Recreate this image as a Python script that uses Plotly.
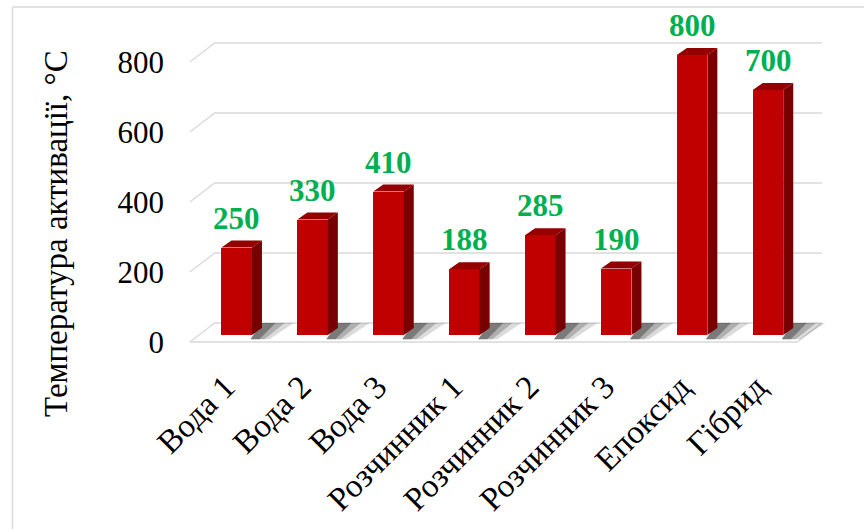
import plotly.graph_objects as go

# ---------------- data ----------------
categories = ["Вода 1", "Вода 2", "Вода 3", "Розчинник 1", "Розчинник 2",
              "Розчинник 3", "Епоксид", "Гібрид"]
values = [250, 330, 410, 188, 285, 190, 800, 700]
tick_values = [0, 200, 400, 600, 800]
tick_labels = ["0", "200", "400", "600", "800"]
y_title = "Температура активації, °С"

# ---------------- styling / geometry ----------------
W, H = 864, 529
L, R, T, B = 165, 830, 30, 350          # plot area in px
cat0_px = 236.7                          # px of first category centre
val0_px = 335.0                          # px of value 0 (bar plane)
px_per_cat = 75.9
px_per_unit = 0.35

FONT = "Times New Roman, Liberation Serif, serif"
RED = "#C00000"
RED_SIDE = "#780000"
RED_TOP = "#940000"
GREEN = "#00B050"
GRID = "#D9D9D9"

bar_w = 30.5 / px_per_cat
side_dx = 10 / px_per_cat
side_dy = 7 / px_per_unit
front_dx, front_dy = -9 / px_per_cat, -7 / px_per_unit
back_dx, back_dy = 16 / px_per_cat, 12 / px_per_unit

n = len(categories)
idx = list(range(n))
xr0 = (L - cat0_px) / px_per_cat
xr1 = (R - cat0_px) / px_per_cat
yr0 = (val0_px - B) / px_per_unit
yr1 = (val0_px - T) / px_per_unit

fig = go.Figure()

shapes = []
# floor / gridlines (3D walls)
left = -0.5
right = n - 0.5
for v in tick_values:
    path = (f"M {left + front_dx},{v + front_dy} L {left + back_dx},{v + back_dy} "
            f"L {right + back_dx},{v + back_dy}")
    shapes.append(dict(type="path", path=path, xref="x", yref="y",
                       line=dict(color=GRID, width=1.3), layer="below"))
# floor front edge & right edge
shapes.append(dict(type="path",
                   path=(f"M {left + front_dx},{front_dy} L {right + front_dx},{front_dy} "
                         f"L {right + back_dx},{back_dy}"),
                   xref="x", yref="y", line=dict(color=GRID, width=1.3), layer="below"))

# shadows on the floor (layered for a soft gradient)
for i in idx:
    xr = i + bar_w / 2
    for ext, a in [(0.42, 0.14), (0.30, 0.20), (0.18, 0.30)]:
        path = (f"M {xr - 0.02},{front_dy * 0.6} L {xr + ext * 0.55},{front_dy * 0.6} "
                f"L {xr + side_dx + ext},{back_dy} L {xr + side_dx},{back_dy} Z")
        shapes.append(dict(type="path", path=path, xref="x", yref="y",
                           fillcolor=f"rgba(0,0,0,{a})", line=dict(width=0),
                           layer="below"))

# chart border (top & left)
def px2paper_x(px):
    return (px - L) / (R - L)

def px2paper_y(py):
    return (B - py) / (B - T)

shapes.append(dict(type="line", xref="paper", yref="paper",
                   x0=px2paper_x(12.5), x1=px2paper_x(W), y0=px2paper_y(7), y1=px2paper_y(7),
                   line=dict(color=GRID, width=1.5)))
shapes.append(dict(type="line", xref="paper", yref="paper",
                   x0=px2paper_x(12.5), x1=px2paper_x(12.5), y0=px2paper_y(7), y1=px2paper_y(H),
                   line=dict(color=GRID, width=1.5)))

# front faces
fig.add_trace(go.Bar(x=idx, y=values, width=bar_w, marker=dict(color=RED, line=dict(width=0)),
                     hoverinfo="skip", showlegend=False))

# side faces and top faces
sx, sy, tx, ty = [], [], [], []
for i, v in zip(idx, values):
    xl, xr = i - bar_w / 2, i + bar_w / 2
    sx += [xr, xr + side_dx, xr + side_dx, xr, xr, None]
    sy += [0, side_dy, v + side_dy, v, 0, None]
    tx += [xl, xr, xr + side_dx, xl + side_dx, xl, None]
    ty += [v, v, v + side_dy, v + side_dy, v, None]
fig.add_trace(go.Scatter(x=sx, y=sy, mode="lines", fill="toself", fillcolor=RED_SIDE,
                         line=dict(width=0, color=RED_SIDE), hoverinfo="skip", showlegend=False))
fig.add_trace(go.Scatter(x=tx, y=ty, mode="lines", fill="toself", fillcolor=RED_TOP,
                         line=dict(width=0, color=RED_TOP), hoverinfo="skip", showlegend=False))

annotations = []
for i, v in zip(idx, values):
    annotations.append(dict(x=i, y=v, xref="x", yref="y", text=f"<b>{v}</b>",
                            showarrow=False, yanchor="bottom", yshift=10,
                            font=dict(family=FONT, size=31, color=GREEN)))
annotations.append(dict(x=px2paper_x(56), y=px2paper_y(234), xref="paper", yref="paper",
                        xanchor="center", yanchor="middle",
                        text=y_title, textangle=-90, showarrow=False,
                        font=dict(family=FONT, size=33, color="#000000")))

fig.update_layout(
    width=W, height=H,
    margin=dict(l=L, r=W - R, t=T, b=H - B, pad=0, autoexpand=False),
    paper_bgcolor="white", plot_bgcolor="white",
    shapes=shapes, annotations=annotations,
    bargap=0,
    xaxis=dict(range=[xr0, xr1], showgrid=False, zeroline=False, showline=False,
               automargin=False,
               tickmode="array", tickvals=[i - 0.15 for i in idx], ticktext=categories,
               tickangle=-45, ticks="", ticklabelstandoff=10,
               tickfont=dict(family=FONT, size=33, color="#000000")),
    yaxis=dict(range=[yr0, yr1], showgrid=False, zeroline=False, showline=False,
               automargin=False,
               tickmode="array", tickvals=[v + front_dy for v in tick_values],
               ticktext=tick_labels, ticks="",
               tickfont=dict(family=FONT, size=31, color="#000000")),
)

fig.write_html("out.html")
